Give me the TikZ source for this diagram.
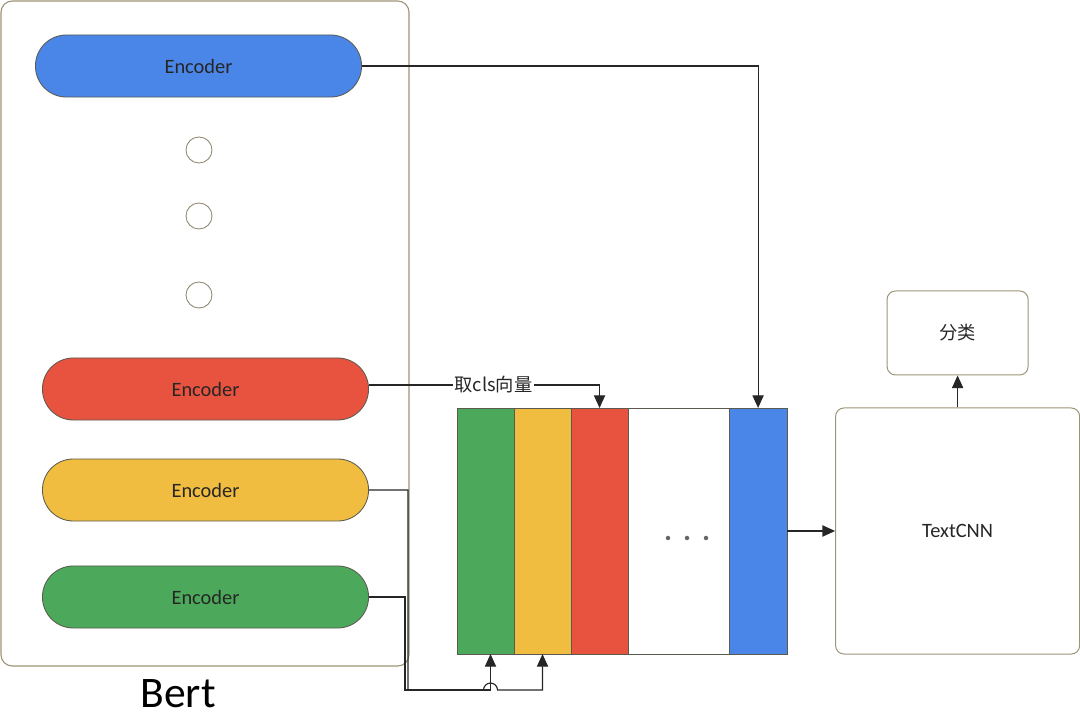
\documentclass[tikz,border=0pt]{standalone}
\usepackage{fontspec}
\setmainfont{Carlito}
\newfontfamily\cjk{Noto Sans CJK SC}
\usetikzlibrary{shapes.geometric, arrows.meta, positioning, calc}

\definecolor{encblue}{HTML}{4A86E8}
\definecolor{encred}{HTML}{E8533F}
\definecolor{encyellow}{HTML}{F1BD41}
\definecolor{encgreen}{HTML}{4CA85B}
\definecolor{framecol}{HTML}{9C9477}
\definecolor{edgecol}{HTML}{5A5A50}

\begin{document}
\begin{tikzpicture}[x=0.025cm, y=-0.025cm, font=\fontsize{14.5}{17}\selectfont,
    encoder/.style={rectangle, draw=edgecol, line width=0.6pt, rounded corners=0.77cm, minimum width=8.15cm, minimum height=1.55cm, text=black!85},
    layerdot/.style={circle, draw=framecol!90!black, line width=0.6pt, minimum size=0.65cm, inner sep=0pt},
    strip/.style={rectangle, draw=edgecol, line width=0.6pt, minimum height=6.15cm, inner sep=0pt, outer sep=0pt},
    box/.style={rectangle, draw=framecol, line width=0.7pt, rounded corners=6pt, text=black!85},
    conn/.style={line width=0.8pt, black!85, -{Triangle[length=9pt, width=8pt]}}]
    \useasboundingbox (0,0) rectangle (1080,720);

    % Define nodes
    \draw[framecol, rounded corners=8pt, line width=0.8pt] (1,1) rectangle (409,666);
    \node (bert) at (178,694) {\fontsize{31}{36}\selectfont Bert};

    \node [encoder, fill=encblue] (encb) at (198.5,66) {Encoder};
    \node [layerdot] (d1) at (199,150) {};
    \node [layerdot] (d2) at (199,216) {};
    \node [layerdot] (d3) at (199,295) {};
    \node [encoder, fill=encred] (encr) at (205.5,389) {Encoder};
    \node [encoder, fill=encyellow] (ency) at (205.5,490) {Encoder};
    \node [encoder, fill=encgreen] (encg) at (205.5,597) {Encoder};

    \node [strip, fill=encgreen, minimum width=1.425cm] (s1) at (485.5,531) {};
    \node [strip, fill=encyellow, minimum width=1.425cm, right=0pt of s1] (s2) {};
    \node [strip, fill=encred, minimum width=1.425cm, right=0pt of s2] (s3) {};
    \node [strip, fill=white, minimum width=2.525cm, right=0pt of s3] (s4) {};
    \node [strip, fill=encblue, minimum width=1.45cm, right=0pt of s4] (s5) {};
    \foreach \x in {668,687,706}
        \fill[black!60] (\x,538) circle[radius=1.6pt];

    \node [box, minimum width=6.1cm, minimum height=6.15cm, right=1.2cm of s5] (cnn) {TextCNN};
    \node [box, minimum width=3.525cm, minimum height=2.1cm, above=0.8cm of cnn] (cls) {\fontsize{13}{15}\selectfont\cjk 分类};

    % Draw arrows and labels
    \draw[conn] (encb.east) -| (s5.north);
    \draw[conn] ($(encr.east)+(0,-4)$) -| (s3.north)
        node[pos=0.27, fill=white, inner sep=1pt] {\fontsize{13}{15}\selectfont\cjk 取cls向量};
    \draw[conn] (encg.east) -- ++(36,0) |- ($(s1.south)+(5,36)$) -- ($(s1.south)+(5,0)$);
    \draw[conn] (ency.east) -- ++(39,0) |- ($(s1.south)+(-2,36)$)
        arc[start angle=180, end angle=0, radius=0.175cm] -| (s2.south);
    \draw[conn] (s5.east) -- (cnn.west);
    \draw[conn] (cnn.north) -- (cls.south);
\end{tikzpicture}
\end{document}
